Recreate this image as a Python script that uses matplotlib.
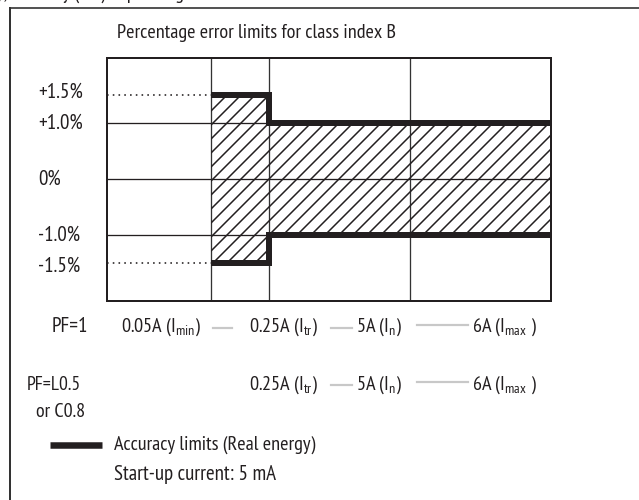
import matplotlib.pyplot as plt
from matplotlib import font_manager
import numpy as np

# error limits for class index B, PF=1
limit_values = [1.5, 1.0, 0.0, -1.0, -1.5]
limit_labels = ['+1.5%', '+1.0%', '0%', '-1.0%', '-1.5%']
# allowed error (+/-) between I_min-I_tr and I_tr-I_max
seg_limits = [1.5, 1.0]
# current boundaries along the x scale (I_min, I_tr, I_n, I_max)
current_pos = [104, 162, 303, 444]

pf1_labels = ['0.05A (I$_{\\mathrm{min}}$)', '0.25A (I$_{\\mathrm{tr}}$)',
              '5A (I$_{\\mathrm{n}}$)', '6A (I$_{\\mathrm{max}}$ )']
pf2_labels = ['0.25A (I$_{\\mathrm{tr}}$)', '5A (I$_{\\mathrm{n}}$)',
              '6A (I$_{\\mathrm{max}}$ )']

W, H, DPI = 639, 500, 84
ink = '#231f20'

# pick a narrow face if one is installed
fams = set(f.name for f in font_manager.fontManager.ttflist)
fnt, stretch = 'DejaVu Sans', 'condensed'
for cand in ['PT Sans Narrow', 'Fira Sans Condensed', 'Asap Condensed']:
    if cand in fams:
        fnt, stretch = cand, 'normal'
        break

plt.rcParams['font.family'] = [fnt, 'DejaVu Sans']
plt.rcParams['font.stretch'] = stretch
plt.rcParams['mathtext.fontset'] = 'custom'
plt.rcParams['mathtext.rm'] = fnt + ':stretch=' + stretch
plt.rcParams['mathtext.it'] = fnt + ':stretch=' + stretch
plt.rcParams['hatch.linewidth'] = 1.3


def px(v):
    # pixels -> points
    return v * 72.0 / DPI


def fx(x):
    return x / W


def fy(y):
    return 1 - y / H


fs = px(20.2)
fig = plt.figure(figsize=(W / DPI, H / DPI), dpi=DPI)

# outer frame (top and left edge only)
fig.add_artist(plt.Line2D([fx(10), 1], [fy(8), fy(8)], color='#555555', lw=px(2)))
fig.add_artist(plt.Line2D([fx(10), fx(10)], [fy(8), 0], color='#333333', lw=px(2)))
fig.text(fx(-4), fy(-1), 'y, accuracy (\u00b1%) depending on the current',
         fontsize=fs, color=ink, va='baseline', ha='left')

ax = fig.add_axes([fx(107), fy(301), 444 / W, 243 / H])
ax.set_xlim(0, current_pos[-1])
ax.set_ylim(-2.18, 2.16)
ax.set_xticks([])
ax.set_yticks([])
for s in ax.spines.values():
    s.set_linewidth(px(2))
    s.set_color(ink)

# grid
for v in [1.0, 0.0, -1.0]:
    ax.axhline(v, color=ink, lw=px(1.3), zorder=1)
for x in current_pos[:-1]:
    ax.axvline(x, color='#333333', lw=px(1.3), zorder=1)

# dotted guides to the +/-1.5% limit
for v in [seg_limits[0], -seg_limits[0]]:
    ax.plot([0, current_pos[0]], [v, v], color=ink, lw=px(1.6),
            linestyle=(0, (1, 2.6)), zorder=2)

# hatched error band
xs = [current_pos[0], current_pos[1], current_pos[-1]]
upper = np.array(seg_limits + [seg_limits[-1]])
ax.fill_between(xs, -upper, upper, step='post', facecolor='none',
                edgecolor=ink, hatch='//', linewidth=0, zorder=2)
for sgn in [1, -1]:
    ax.step(xs, sgn * upper, where='post', color=ink, lw=px(6),
            solid_capstyle='butt', solid_joinstyle='miter', zorder=3)

# percentage labels
for v, lab in zip(limit_values, limit_labels):
    yv = v + (0.05 if v == 1.5 else (-0.05 if v == -1.5 else 0))
    ax.text((38 - 107) / 444, yv, lab, transform=ax.get_yaxis_transform(),
            fontsize=px(21), color=ink, va='center', ha='left')

fig.text(fx(117), fy(33), 'Percentage error limits for class index B',
         fontsize=fs, color=ink, va='center', ha='left')

# current scale rows
grey = '#c8c8c8'
fig.text(fx(52), fy(327), 'PF=1', fontsize=px(21), color=ink, va='center')
row1_x = [121, 249, 356, 472]
for x, lab in zip(row1_x, pf1_labels):
    fig.text(fx(x), fy(327), lab, fontsize=fs, color=ink, va='center')
for x0, x1, y in [(213, 232, 328), (331, 352, 328), (417, 468, 325)]:
    fig.add_artist(plt.Line2D([fx(x0), fx(x1)], [fy(y), fy(y)], color=grey, lw=px(2.2)))

fig.text(fx(27), fy(385), 'PF=L0.5', fontsize=px(19.5), color=ink, va='center')
fig.text(fx(36), fy(412), 'or C0.8', fontsize=px(20), color=ink, va='center')
for x, lab in zip(row1_x[1:], pf2_labels):
    fig.text(fx(x), fy(385), lab, fontsize=fs, color=ink, va='center')
for x0, x1, y in [(331, 352, 385), (417, 468, 382)]:
    fig.add_artist(plt.Line2D([fx(x0), fx(x1)], [fy(y), fy(y)], color=grey, lw=px(2.2)))

# legend
fig.add_artist(plt.Line2D([fx(50), fx(102)], [fy(445), fy(445)], color=ink,
                          lw=px(6.5), solid_capstyle='butt'))
fig.text(fx(114), fy(445), 'Accuracy limits (Real energy)', fontsize=fs,
         color=ink, va='center')
fig.text(fx(114), fy(475), 'Start-up current: 5 mA', fontsize=px(21),
         color=ink, va='center')

fig.savefig('out.png', dpi=DPI, facecolor='white')
